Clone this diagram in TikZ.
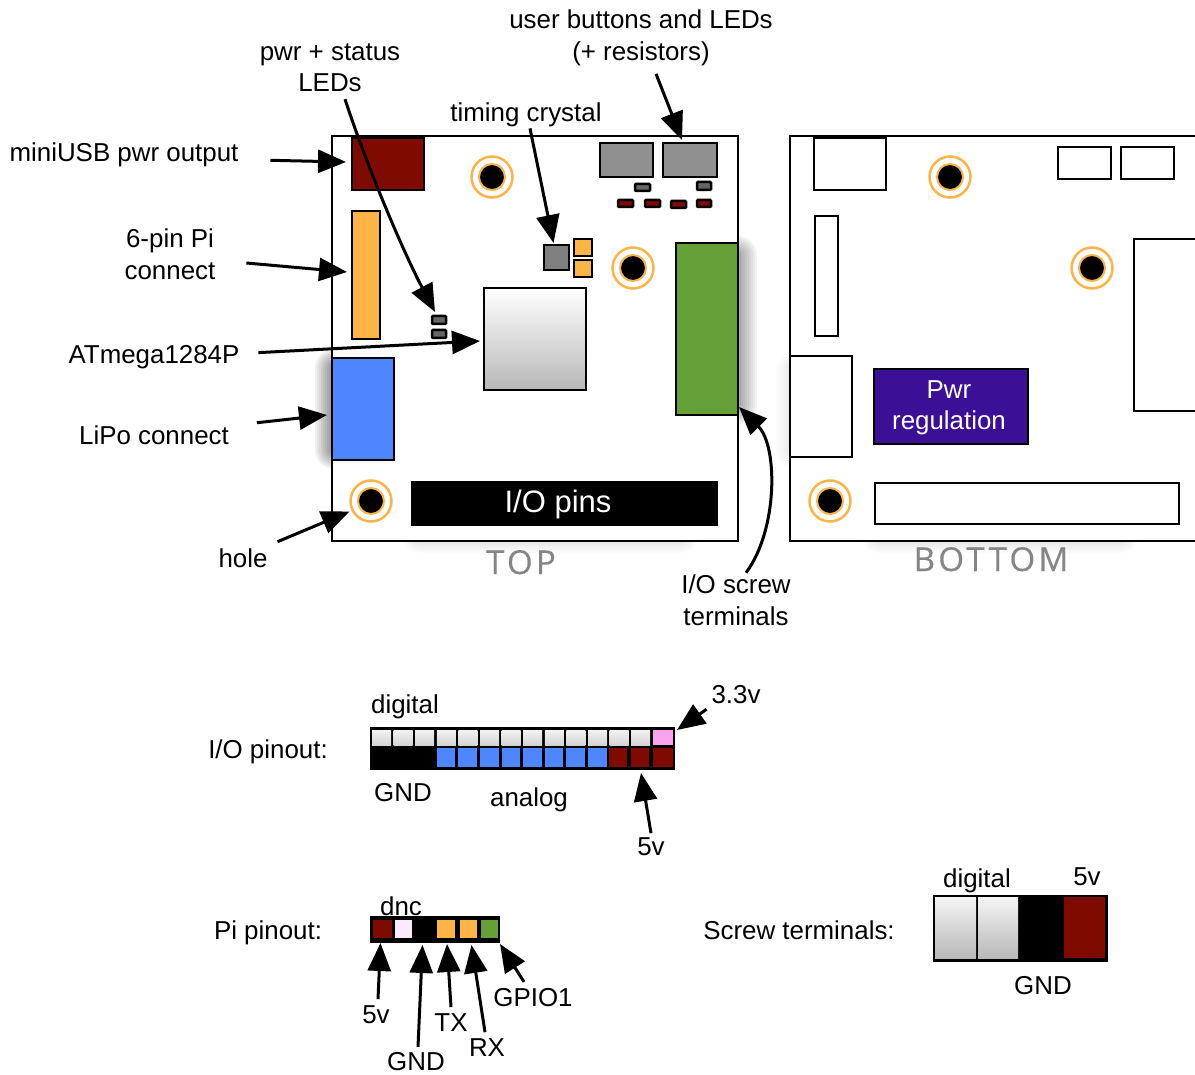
\documentclass[tikz,border=0pt]{standalone}
\usepackage{fontspec}
\setmainfont{Liberation Sans}
\newfontfamily\capfont[LetterSpace=10,FakeBold=0.4]{Open Sans}
\usetikzlibrary{arrows.meta}
\definecolor{cred}{HTML}{7F0B00}
\definecolor{corange}{HTML}{FDB446}
\definecolor{cblue}{HTML}{4D86FF}
\definecolor{cgreen}{HTML}{659F38}
\definecolor{cgray}{HTML}{909090}
\definecolor{cindigo}{HTML}{3B0F96}
\definecolor{cpink}{HTML}{FBA3EE}
\definecolor{cpale}{HTML}{FBEAFB}
\tikzset{
  pbase/.style={draw=black,line width=2.8pt,inner sep=0pt,outer sep=0pt,rectangle},
  smallpart/.style={line width=2.5pt,fill=black!60,rounded corners=1pt},
  ledred/.style={line width=2.5pt,fill=cred,rounded corners=1pt},
  silver/.style={top color=white,bottom color=black!28},
  digi/.style={draw=none,top color=black!5,bottom color=black!17},
  flat/.style={draw=none},
  holeouter/.style={circle,draw=corange,line width=2.5pt,fill=white,minimum size=41pt,inner sep=0pt,outer sep=0pt},
  holeinner/.style={circle,draw=corange,line width=2pt,fill=black,minimum size=26pt,inner sep=0pt,outer sep=0pt},
  lab/.style={font=\fontsize{25.9}{31.5}\selectfont,text=black,inner sep=0pt,outer sep=0pt,anchor=base},
  mlab/.style={font=\fontsize{25.9}{31.5}\selectfont,text=black,inner sep=0pt,outer sep=0pt,align=center},
  captxt/.style={font=\capfont\fontsize{33}{36}\selectfont,text=black!48,inner sep=0pt,anchor=base},
  arr/.style={line width=3pt,-{Triangle[length=28pt,width=23pt]},black}
}
\newcommand{\partbox}[6]{%
  \pgfmathsetmacro\pw{#4-(#2)}\pgfmathsetmacro\ph{#5-(#3)}%
  \pgfmathsetmacro\cx{(#2+#4)/2}\pgfmathsetmacro\cy{(#3+#5)/2}%
  \node[pbase,minimum width=\pw pt,minimum height=\ph pt,#6] (#1) at (\cx,\cy) {};}
\newcommand{\hole}[3]{%
  \node[holeouter] (#1) at (#2,#3) {};
  \node[holeinner] (#1i) at (#2,#3) {};}
% soft shadow: a stack of faint, growing rounded rectangles
\newcommand{\softshadow}[5]{%
  \foreach \g in {1,3,...,19}{
    \fill[black,opacity=#5,rounded corners=\g pt] (#1-\g,#2-\g) rectangle (#3+\g,#4+\g);
  }}
\begin{document}
\begin{tikzpicture}[x=1pt,y=-1pt]
\useasboundingbox (0,0) rectangle (1195,1075);
\softshadow{334}{368}{345}{450}{0.055}
\softshadow{728}{255}{738}{405}{0.045}
\softshadow{420}{530}{680}{534}{0.015}
\softshadow{880}{530}{1120}{534}{0.015}
\softshadow{795}{370}{800}{450}{0.012}
% TOP board
\partbox{top}{332}{136}{738}{541}{fill=white}
\partbox{usb}{352}{138}{424}{190}{fill=cred}
\partbox{pinsix}{352}{211}{380}{339}{fill=corange}
\partbox{lipo}{332}{358}{394}{460}{fill=cblue}
\partbox{green}{676}{243}{738}{415}{fill=cgreen}
\partbox{atm}{484}{288}{586}{390}{silver}
\partbox{crystal}{544}{245}{569}{270}{fill=black!50}
\partbox{xa}{574}{239}{592}{256}{fill=corange}
\partbox{xb}{574}{260}{592}{277}{fill=corange}
\partbox{btna}{600}{143}{653}{177}{fill=cgray}
\partbox{btnb}{663}{143}{717}{177}{fill=cgray}
\partbox{sa}{635}{184}{650}{191}{smallpart}
\partbox{sb}{697}{182}{711}{190}{smallpart}
\partbox{ra}{618}{200}{633}{207}{ledred}
\partbox{rb}{645}{200}{660}{207}{ledred}
\partbox{rc}{671}{201}{686}{208}{ledred}
\partbox{rd}{697}{200}{711}{207}{ledred}
\partbox{leda}{432}{316}{446}{324}{smallpart}
\partbox{ledb}{432}{330}{446}{338}{smallpart}
\partbox{iopins}{412}{482}{717}{525}{fill=black}
\node[font=\fontsize{31}{34}\selectfont,text=white,inner sep=0pt] (iotxt) at (558,504) {I/O pins};
\hole{ha}{492}{177}
\hole{hb}{633}{268}
\hole{hc}{371}{501}
\node[captxt] (toptxt) at (521,574) {TOP};
% BOTTOM board
\partbox{bot}{790}{136}{1198}{541}{fill=white}
\partbox{busb}{814}{138}{886}{190}{fill=white}
\partbox{bpin}{815}{216}{838}{336}{fill=white}
\partbox{blipo}{790}{356}{852}{457}{fill=white}
\partbox{bgreen}{1134}{239}{1198}{411}{fill=white}
\partbox{bio}{875}{483}{1179}{524}{fill=white}
\partbox{bba}{1058}{147}{1111}{179}{fill=white}
\partbox{bbb}{1121}{147}{1174}{179}{fill=white}
\partbox{preg}{874}{369}{1028}{444}{fill=cindigo}
\node[mlab,text=white] (pregtxt) at (949,408) {Pwr\\regulation};
\hole{hd}{950}{177}
\hole{he}{1092}{268}
\hole{hf}{830}{501}
\node[captxt] (bottxt) at (991,571) {BOTTOM};
% board labels
\node[mlab] (luser) at (641,38) {user buttons and LEDs\\(+ resistors)};
\node[mlab] (lpwr) at (330,68) {pwr + status\\LEDs};
\node[lab] (ltime) at (526,122) {timing crystal};
\node[lab] (lusb) at (124,162) {miniUSB pwr output};
\node[mlab] (lpin) at (170,254) {6-pin Pi\\connect};
\node[lab] (latm) at (154,364) {ATmega1284P};
\node[lab] (llipo) at (154,445) {LiPo connect};
\node[lab] (lhole) at (243,567) {hole};
\node[mlab] (lscrew) at (736,600) {I/O screw\\terminals};
% board arrows
\draw[arr] ([shift={(15,7)}]lpwr.south) .. controls (370,175) and (405,255) .. ([shift={(-4,-4)}]leda.north);
\draw[arr] ([shift={(15,8)}]luser.south) -- ([shift={(-8,-3)}]btnb.north);
\draw[arr] ([shift={(4,1)}]ltime.south) -- ([shift={(-3,-2)}]crystal.north);
\draw[arr] ([shift={(32,5)}]lusb.east) -- ([shift={(-6,-2)}]usb.west);
\draw[arr] ([shift={(31,9)}]lpin.east) -- ([shift={(-5,-3)}]pinsix.west);
\draw[arr] ([shift={(19,-5)}]latm.east) -- ([shift={(-4,2)}]atm.west);
\draw[arr] ([shift={(28,-13)}]llipo.east) -- ([shift={(-5,6)}]lipo.west);
\draw[arr] ([shift={(10,-16)}]lhole.east) -- ([shift={(-7,-4)}]hc.south west);
\draw[arr] ([shift={(10,-2)}]lscrew.north) .. controls (778,530) and (778,446) .. ([shift={(1,-8)}]green.south east);
% I/O pinout
\node[lab] (lio) at (268,758) {I/O pinout:};
\partbox{strip}{371}{728}{674}{769}{fill=black}
\foreach \i in {0,...,12}{
  \pgfmathsetmacro\xa{372+21.6*\i}\pgfmathsetmacro\xb{\xa+19}
  \partbox{d\i}{\xa}{730}{\xb}{745}{digi}
}
\partbox{d13}{653}{730}{673}{745}{flat,fill=cpink}
\foreach \i in {3,...,10}{
  \pgfmathsetmacro\xa{372+21.6*\i}\pgfmathsetmacro\xb{\xa+18.5}
  \partbox{a\i}{\xa}{748}{\xb}{767}{flat,fill=cblue}
}
\partbox{va}{609}{748}{627}{767}{flat,fill=cred}
\partbox{vb}{631}{748}{649}{767}{flat,fill=cred}
\partbox{vc}{653}{748}{673}{767}{flat,fill=cred}
\node[lab] (ldig) at (405,713) {digital};
\node[lab] (lgnd) at (403,801) {GND};
\node[lab] (lana) at (529,806) {analog};
\node[lab] (lthree) at (736,703) {3.3v};
\node[lab] (lfive) at (651,855) {5v};
\draw[arr] ([shift={(-5,6)}]lthree.south west) -- ([shift={(3,2)}]strip.north east);
\draw[arr] ([shift={(0,-4)}]lfive.north) -- ([shift={(1,6)}]vb.south);
% Pi pinout
\node[lab] (lpi) at (268,939) {Pi pinout:};
\partbox{pi}{371}{917}{499}{942}{fill=black}
\partbox{pa}{373}{920}{392}{938}{flat,fill=cred}
\partbox{pb}{395}{920}{412}{938}{flat,fill=cpale}
\partbox{pc}{415}{920}{434}{938}{flat,fill=black}
\partbox{pd}{437}{920}{455}{938}{flat,fill=corange}
\partbox{pe}{460}{920}{477}{938}{flat,fill=corange}
\partbox{pf}{481}{920}{498}{938}{flat,fill=cgreen}
\node[lab] (ldnc) at (401,915) {dnc};
\node[lab] (lpfive) at (376,1023) {5v};
\node[lab] (lpgnd) at (416,1070) {GND};
\node[lab] (ltx) at (451,1031) {TX};
\node[lab] (lrx) at (487,1056) {RX};
\node[lab] (lgpio) at (533,1006) {GPIO1};
\draw[arr] ([shift={(2,-6)}]lpfive.north) -- ([shift={(-2,5)}]pa.south);
\draw[arr] ([shift={(2,-5)}]lpgnd.north) -- ([shift={(-2,7)}]pc.south);
\draw[arr] ([shift={(0,-6)}]ltx.north) -- ([shift={(1,6)}]pd.south);
\draw[arr] ([shift={(-2,-6)}]lrx.north) -- ([shift={(3,7)}]pe.south);
\draw[arr] ([shift={(-9,-6)}]lgpio.north) -- ([shift={(1,2)}]pi.south east);
% Screw terminals
\node[lab] (lsc) at (799,939) {Screw terminals:};
\partbox{scr}{934}{896}{1107}{961}{fill=black}
\partbox{sca}{935}{897}{976}{958}{flat,top color=black!4,bottom color=black!28}
\partbox{scb}{978}{897}{1018}{958}{flat,top color=black!4,bottom color=black!28}
\partbox{scc}{1064}{897}{1105}{958}{flat,fill=cred}
\node[lab] (lsd) at (977,887) {digital};
\node[lab] (lsv) at (1087,885) {5v};
\node[lab] (lsg) at (1043,994) {GND};
\end{tikzpicture}
\end{document}
